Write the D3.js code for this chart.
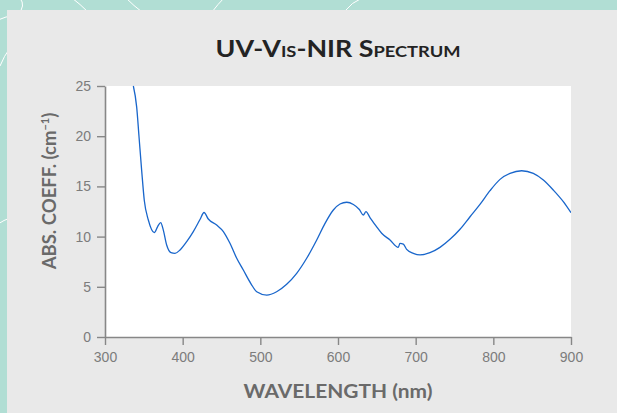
<!DOCTYPE html>
<html>
<head>
<meta charset="utf-8">
<script src="https://cdn.jsdelivr.net/npm/d3@7"></script>
<style>
  html, body { margin: 0; padding: 0; background: #b1ded4; }
  svg { display: block; }
</style>
</head>
<body>
<svg id="chart" width="617" height="413"></svg>
<script>
// Absorption coefficient spectrum (wavelength in nm, coefficient in cm^-1)
const wavelength = [336.5, 340.8, 343.8, 347.2, 350.6, 355.8, 363.5, 367.8, 371.7, 375.1,
  379.4, 385, 390.1, 396.6, 405.2, 413.7, 422.3, 427.5, 433, 443.8,
  452.4, 460.9, 469.6, 478.1, 488, 495.3, 508.2, 521, 533.9, 546.8,
  559.7, 572.6, 583.3, 594, 602.6, 611.2, 619.8, 627.5, 632.6, 636,
  641.2, 648.9, 656.2, 667, 677.6, 679.8, 684.1, 688.4, 697, 705.6,
  718.4, 731.3, 744.2, 757.1, 770, 782.8, 795.7, 808.6, 821.5, 836.5,
  851.5, 864.4, 877.2, 890.1, 900];
const absCoeff = [25.0, 22.9, 19.95, 16.6, 13.6, 11.65, 10.4, 11.0, 11.4, 10.65,
  9.16, 8.4, 8.33, 8.67, 9.5, 10.5, 11.7, 12.4, 11.75, 11.15,
  10.5, 9.33, 7.84, 6.67, 5.3, 4.51, 4.18, 4.51, 5.25, 6.34,
  7.84, 9.66, 11.32, 12.65, 13.25, 13.42, 13.2, 12.7, 12.15, 12.48,
  11.9, 11.06, 10.33, 9.66, 8.93, 9.33, 9.26, 8.73, 8.33, 8.17,
  8.4, 8.93, 9.73, 10.73, 11.98, 13.2, 14.57, 15.7, 16.3, 16.56,
  16.3, 15.64, 14.64, 13.48, 12.38];

const xTicks = [300, 400, 500, 600, 700, 800, 900];
const yTicks = [0, 5, 10, 15, 20, 25];

const svg = d3.select("#chart");
const W = 617, H = 413;

// Decorative backdrop: teal with thin white swirls, then the grey card
const deco = svg.append("g").attr("fill", "none").attr("stroke", "#ffffff").attr("stroke-width", 1);
[
  "M20,-2 Q26,6 18,14",
  "M72,-2 Q80,4 88,12",
  "M126,-2 Q134,6 142,12",
  "M224,-2 Q218,4 212,12",
  "M362,-2 Q352,2 344,12",
  "M-2,20 Q6,16 14,16",
  "M10,48 Q4,56 0,66",
  "M-2,224 Q4,220 10,218"
].forEach(d => deco.append("path").attr("d", d));

svg.append("rect")
  .attr("x", 7).attr("y", 10)
  .attr("width", W - 7).attr("height", H - 10)
  .attr("fill", "#e9e9e9");

const margin = { left: 105, right: 46, top: 86, bottom: 76 };
const plotW = W - margin.left - margin.right;
const plotH = H - margin.top - margin.bottom;

const x = d3.scaleLinear().domain([300, 900]).range([margin.left, margin.left + plotW]);
const y = d3.scaleLinear().domain([0, 25]).range([margin.top + plotH, margin.top]);

svg.append("rect")
  .attr("x", x(300)).attr("y", y(25))
  .attr("width", x(900) - x(300)).attr("height", y(0) - y(25))
  .attr("fill", "#ffffff");

svg.append("defs").append("clipPath").attr("id", "plotClip")
  .append("rect")
  .attr("x", x(300)).attr("y", y(25) - 1)
  .attr("width", x(900) - x(300)).attr("height", y(0) - y(25) + 1);

// Spectrum line
const pts = wavelength.map((w, i) => [w, absCoeff[i]]);
const line = d3.line().x(d => x(d[0])).y(d => y(d[1])).curve(d3.curveMonotoneX);
svg.append("path")
  .datum(pts)
  .attr("clip-path", "url(#plotClip)")
  .attr("fill", "none")
  .attr("stroke", "#1966cb")
  .attr("stroke-width", 1.3)
  .attr("stroke-linejoin", "round")
  .attr("d", line);

// Axes
const axisColor = "#878787";
const tickFont = "Liberation Sans, Arial, sans-serif";

const xAxis = svg.append("g")
  .attr("transform", `translate(0,${y(0)})`)
  .call(d3.axisBottom(x).tickValues(xTicks).tickSize(8).tickSizeOuter(0).tickPadding(7));
const yAxis = svg.append("g")
  .attr("transform", `translate(${x(300)},0)`)
  .call(d3.axisLeft(y).tickValues(yTicks).tickSize(8).tickSizeOuter(0).tickPadding(6));

[xAxis, yAxis].forEach(g => {
  g.select(".domain").attr("stroke", axisColor).attr("stroke-width", 1.6);
  g.selectAll(".tick line").attr("stroke", axisColor).attr("stroke-width", 1.4);
  g.selectAll(".tick text")
    .attr("fill", "#7c7c7c")
    .style("font-family", tickFont)
    .style("font-size", "14px");
});

// Titles
const labelFont = "Lato, 'Open Sans', sans-serif";
svg.append("text")
  .attr("x", 338).attr("y", 57)
  .attr("text-anchor", "middle")
  .attr("textLength", 245)
  .attr("lengthAdjust", "spacingAndGlyphs")
  .style("font-family", labelFont)
  .style("font-weight", 700)
  .style("font-size", "22px")
  .style("font-variant", "small-caps")
  .attr("fill", "#232323")
  .text("UV-Vis-NIR Spectrum");

svg.append("text")
  .attr("x", 338).attr("y", 398)
  .attr("text-anchor", "middle")
  .attr("textLength", 189)
  .attr("lengthAdjust", "spacingAndGlyphs")
  .style("font-family", labelFont)
  .style("font-weight", 700)
  .style("font-size", "19px")
  .attr("fill", "#6a6a6a")
  .text("WAVELENGTH (nm)");

const yl = svg.append("text")
  .attr("transform", "translate(56,191) rotate(-90)")
  .attr("text-anchor", "middle")
  .style("font-family", labelFont)
  .style("font-weight", 700)
  .style("font-size", "18.5px")
  .attr("fill", "#6a6a6a");
yl.append("tspan").text("ABS. COEFF. (cm");
yl.append("tspan").attr("dy", -7).style("font-size", "11px").text("\u22121");
yl.append("tspan").attr("dy", 7).text(")");
</script>
</body>
</html>
